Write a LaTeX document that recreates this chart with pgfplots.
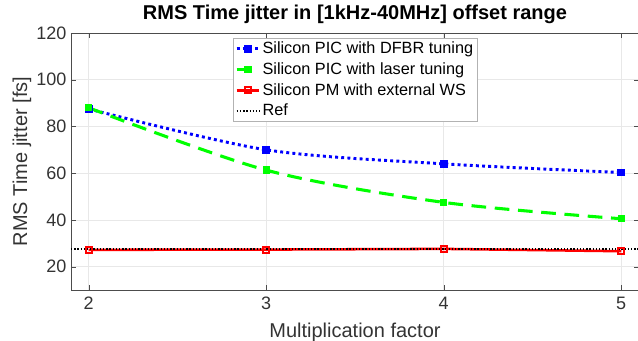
\documentclass[border=0pt]{standalone}
\usepackage{pgfplots}
\pgfplotsset{compat=1.18}
\usepackage{fontspec}
\setmainfont{Liberation Sans}
\begin{document}
\begin{tikzpicture}[x=1pt,y=1pt]
\begin{axis}[
  name=ax,
  scale only axis,
  width=426pt, height=192.75pt,
  xmin=1.9, xmax=5.1, ymin=10, ymax=120,
  xtick={2,3,4,5}, ytick={20,40,60,80,100,120},
  grid=major,
  major grid style={gray!18, line width=0.5pt},
  axis line style={gray!60!black, line width=0.6pt},
  tick style={gray!60!black},
  tick align=inside,
  major tick length=4pt,
  tick label style={font=\fontsize{13.5}{15}\selectfont, text=black!80},
  /pgf/number format/assume math mode=true,
  xticklabel style={yshift=-2pt},
  xlabel={Multiplication factor},
  ylabel={RMS Time jitter [fs]},
  label style={font=\fontsize{15}{17}\selectfont, text=black!80},
  xlabel style={at={(axis description cs:0.5,-0.183)}, anchor=base},
  ylabel style={at={(axis description cs:-0.0863,0.5)}, anchor=center},
  title={\textbf{RMS Time jitter in [1kHz-40MHz] offset range}},
  title style={font=\fontsize{15}{17}\selectfont, at={(axis description cs:0.5,1.0233)}, anchor=base},
  legend style={at={(0.5,0.98)}, anchor=north, font=\fontsize{12.2}{14}\selectfont,
    draw=gray!60, inner sep=1.5pt, row sep=2.8pt, legend cell align=left,
    nodes={inner sep=1.2pt}},
  legend image code/.code={\draw[#1] (0pt,0pt) -- (17pt,0pt); \draw[#1, only marks] plot coordinates {(8.5pt,0pt)};},
]
\addplot[blue, dash pattern=on 2.2pt off 2.4pt, line width=2.2pt, smooth, tension=0.5, mark=square*, mark options={solid, scale=0.9}]
  coordinates {(2,87.5) (3,70) (4,64) (5,60.3)};
\addlegendentry{Silicon PIC with DFBR tuning}
\addplot[green, dash pattern=on 11pt off 6.5pt, line width=2.3pt, smooth, tension=0.5, mark=square*, mark options={solid, scale=0.8}]
  coordinates {(2,88) (3,61.3) (4,47.5) (5,40.5)};
\addlegendentry{Silicon PIC with laser tuning}
\addplot[red, line width=1.9pt, mark=square, mark options={solid, scale=1.1, line width=1.5pt, fill=red!30}]
  coordinates {(2,27.2) (3,27.3) (4,27.6) (5,26.6)};
\addlegendentry{Silicon PM with external WS}
\addplot[black, dash pattern=on 1.1pt off 1.3pt, line width=1.2pt, forget plot]
  coordinates {(1.9,27.5) (5.1,27.5)};
\addlegendimage{black, dash pattern=on 1.1pt off 1.3pt, line width=1.2pt}
\addlegendentry{Ref}
\end{axis}
\pgfresetboundingbox
\path ([shift={(-53.25pt,-37.5pt)}]ax.south west) rectangle ([shift={(-0.75pt,24.75pt)}]ax.north east);
\end{tikzpicture}
\end{document}
